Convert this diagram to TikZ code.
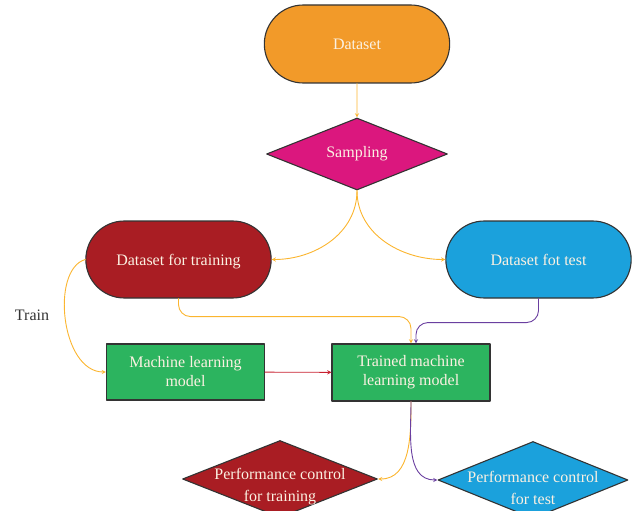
\documentclass[tikz,border=0pt]{standalone}
\usepackage{fontspec}
\setmainfont{Liberation Serif}
\usetikzlibrary{shapes.geometric,shapes.misc}
\definecolor{dsorange}{HTML}{F29A29}
\definecolor{smpmagenta}{HTML}{DB177E}
\definecolor{trainred}{HTML}{A91D23}
\definecolor{testblue}{HTML}{1BA1DC}
\definecolor{modelgreen}{HTML}{2CB45F}
\definecolor{lorange}{HTML}{FBB52F}
\definecolor{lpurple}{HTML}{6A3FA0}
\definecolor{lred}{HTML}{C8202F}
\definecolor{paletext}{HTML}{FBF1E2}
\begin{document}
\begin{tikzpicture}[x=1pt,y=-1pt,font=\fontsize{16}{19}\selectfont, line join=round, line cap=round, >=stealth,
  box/.style={draw=black!80,line width=1.1pt,text=paletext,align=center},
  term/.style={box,rounded rectangle,minimum width=192pt,minimum height=77pt,text height=13pt,text depth=1.5pt},
  decision/.style={box,diamond,aspect=2.5,inner sep=0pt},
  dtext/.style={text=paletext,align=center,yshift=-8pt,font=\fontsize{16}{22}\selectfont},
  proc/.style={box,rectangle,minimum width=158pt,minimum height=56pt},
  link/.style={->,line width=0.9pt}]
\useasboundingbox(0,0)rectangle(632,511);
% terminals
\node[term,fill=dsorange,minimum height=78pt](ds)at(357,44){Dataset};
\node[decision,fill=smpmagenta,minimum width=181pt,minimum height=72pt](samp)at(357,154){Sampling};
\node[term,fill=trainred](dtrain)at(178.5,259.5){Dataset for training};
\node[term,fill=testblue](dtest)at(538.5,259.5){Dataset fot test};
% models
\node[proc,fill=modelgreen](ml)at(185.5,372){Machine learning\\model};
\node[proc,fill=modelgreen,minimum height=57pt](tml)at(411,372.5){Trained machine\\learning model};
% performance checks
\node[decision,fill=trainred,minimum width=195pt,minimum height=77pt,
  label={[dtext]center:{Performance control\\for training}}](ptrain)at(280,479){};
\node[decision,fill=testblue,minimum width=190pt,minimum height=77pt,
  label={[dtext]center:{Performance control\\for test}}](ptest)at(533,480){};
\node[text=black!80](train)at(32,315){Train};
% connectors
\draw[link,lorange](ds)--(samp);
\draw[link,lorange](samp.south)to[out=-90,in=0](dtrain.east);
\draw[link,lorange](samp.south)to[out=-90,in=180](dtest.west);
\draw[link,lorange](dtrain.west)..controls+(-35,10)and+(-45,0)..(ml.west);
\draw[link,lorange,rounded corners=12pt](dtrain.south)--++(0,18)-|(tml.north);
\draw[link,lpurple,rounded corners=12pt](dtest.south)--++(0,24)-|([xshift=5pt]tml.north);
\draw[link,lred](ml)--(tml);
\draw[link,lorange](tml.south)to[out=-90,in=0](ptrain.east);
\draw[link,lpurple](tml.south)to[out=-90,in=180](ptest.west);
\end{tikzpicture}
\end{document}
